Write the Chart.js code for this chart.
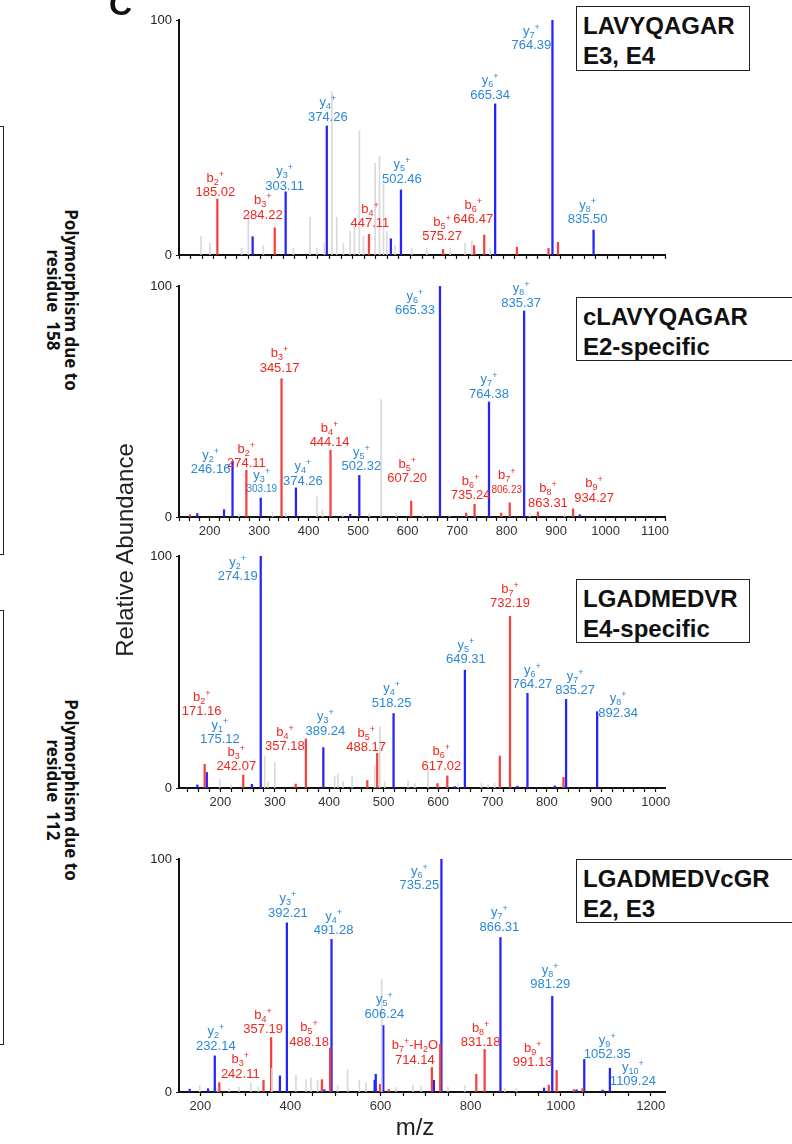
<!DOCTYPE html>
<html>
<head>
<meta charset="utf-8">
<script src="https://cdn.jsdelivr.net/npm/chart.js@4.4.1/dist/chart.umd.min.js"></script>
<style>
  body { margin: 0; width: 792px; height: 1144px; position: relative; overflow: hidden; background: #fff;
         font-family: "Liberation Sans", Arial, sans-serif; }
  canvas { position: absolute; left: 130px; }
  .pep { position: absolute; left: 576px; height: 64px; border: 1.5px solid #222; box-sizing: border-box;
         font-weight: bold; font-size: 24px; line-height: 30px; padding: 4px 0 0 6px; color: #111; background: #fff; white-space: nowrap; }
  .side { position: absolute; left: -20px; width: 24px; border: 1.5px solid #222; box-sizing: border-box; }
  .poly { position: absolute; width: 260px; left: -68px; height: 36px; text-align: center; font-family: "Noto Sans", sans-serif;
          font-weight: bold; font-size: 17px; line-height: 18px; color: #111; transform: rotate(90deg); }
  #ylab { position: absolute; left: -25px; top: 536px; width: 300px; text-align: center; font-size: 24px; line-height: 28px; color: #222;
          transform: rotate(-90deg); }
  #xlab { position: absolute; left: 365px; top: 1113px; width: 100px; text-align: center; font-size: 24px; color: #222; }
  #letter { position: absolute; left: 109px; top: -12px; font-weight: bold; font-size: 32px; line-height: 32px; color: #111; }
</style>
</head>
<body>
<canvas id="p1" width="560" height="280" style="top:5px"></canvas>
<canvas id="p2" width="560" height="276" style="top:271px"></canvas>
<canvas id="p3" width="560" height="277" style="top:541px"></canvas>
<canvas id="p4" width="560" height="278" style="top:844px"></canvas>

<div id="letter">C</div>
<div class="side" style="top:126px;height:429px"></div>
<div class="side" style="top:610px;height:435px"></div>
<div class="poly" style="top:282px">Polymorphism due to<br>residue&nbsp; 158</div>
<div class="poly" style="top:772px">Polymorphism due to<br>residue&nbsp; 112</div>
<div id="ylab">Relative Abundance</div>
<div id="xlab">m/z</div>

<div class="pep" style="top:6px;width:174px;height:65px">LAVYQAGAR<br>E3, E4</div>
<div class="pep" style="top:297px;width:230px">cLAVYQAGAR<br>E2-specific</div>
<div class="pep" style="top:579px;width:174px">LGADMEDVR<br>E4-specific</div>
<div class="pep" style="top:859px;width:230px">LGADMEDVcGR<br>E2, E3</div>

<script>
// ---- panel 1: LAVYQAGAR
const p1Range = [118.7, 959];
const p1RedMz  = [185.02, 284.22, 447.11, 575.27, 629, 646.47, 703, 757.6, 774];
const p1RedInt = [23.8, 11.6, 8.8, 2.4, 4, 8.5, 3.3, 2.8, 5.4];
const p1BlueMz  = [246, 303.11, 374.26, 485, 502.46, 665.34, 764.39, 835.50];
const p1BlueInt = [7.8, 26.9, 54.9, 6.9, 27.7, 64.3, 100, 10.6];
const p1GrayMz  = [156.8, 172.3, 227, 238.6, 264.6, 316.5, 345.3, 357, 370, 383, 391.5, 403, 414.6, 422, 430.6, 437.6, 457.8, 465.4, 472.3, 478, 492.4, 521, 547, 587.6, 613.5, 625, 656.8];
const p1GrayInt = [8, 5, 3, 17, 4, 3, 16, 3, 5, 69.5, 16, 5, 10, 12, 53, 8, 39, 42, 30, 10, 4, 3, 3, 3, 5, 6, 3];
const p1Ions  = ['b2', 'b3', 'y3', 'y4', 'b4', 'y5', 'b5', 'b6', 'y6', 'y7', 'y8'];
const p1IonMz = ['185.02', '284.22', '303.11', '374.26', '447.11', '502.46', '575.27', '646.47', '665.34', '764.39', '835.50'];

// ---- panel 2: cLAVYQAGAR
const p2Range = [138, 1120];
const p2RedMz  = [160, 274.11, 345.17, 444.14, 607.20, 718.3, 735.24, 789, 806.23, 863.31, 934.27];
const p2RedInt = [1, 20.2, 59.9, 28.9, 6.9, 1.7, 5.5, 1.7, 6.1, 2.2, 3.5];
const p2BlueMz  = [175, 229, 246.16, 303.19, 374.26, 484, 502.32, 665.33, 764.38, 835.37, 947.7];
const p2BlueInt = [1.5, 3.2, 24.1, 8.2, 12.6, 1.2, 18, 100, 49.8, 89.2, 1];
const p2GrayMz  = [259, 327, 354, 416.7, 428, 468.6, 522.6, 546.3, 576.7, 630.5, 684.6, 846.5, 917];
const p2GrayInt = [1.5, 2, 1.5, 8.7, 3, 1.5, 1.5, 50.8, 1.5, 1.5, 1, 1.5, 1.5];
const p2Ions  = ['y2', 'b2', 'y3', 'b3', 'y4', 'b4', 'y5', 'b5', 'y6', 'b6', 'y7', 'b7', 'y8', 'b8', 'b9'];
const p2IonMz = ['246.16', '274.11', '303.19', '345.17', '374.26', '444.14', '502.32', '607.20', '665.33', '735.24', '764.38', '806.23', '835.37', '863.31', '934.27'];

// ---- panel 3: LGADMEDVR
const p3Range = [124, 1017];
const p3RedMz  = [171.16, 242.07, 338.5, 357.18, 470, 488.17, 599, 617.02, 713.5, 732.19, 830.5];
const p3RedInt = [10.2, 5.6, 1.7, 21.1, 3.2, 14.9, 1.9, 5.2, 13.8, 74, 4.6];
const p3BlueMz  = [157.7, 175.12, 258, 274.19, 389.24, 518.25, 630.8, 649.31, 746, 764.27, 814.6, 835.27, 892.34];
const p3BlueInt = [1.3, 6.7, 1.6, 100, 17.4, 32.1, 0.6, 50.8, 0.8, 40.8, 0.9, 38.2, 32.9];
const p3GrayMz  = [198.8, 220, 281.5, 287.6, 300, 410, 416, 425.5, 442, 483.7, 493, 502, 545, 557, 581.7, 637, 679.7, 692, 704];
const p3GrayInt = [3.7, 1.3, 13.8, 3, 10.9, 4.9, 6, 3, 5, 9.9, 26.4, 2.5, 3, 2, 7.7, 2, 2, 1.5, 2];
const p3Ions  = ['b2', 'y1', 'b3', 'y2', 'b4', 'y3', 'b5', 'y4', 'b6', 'y5', 'b7', 'y6', 'y7', 'y8'];
const p3IonMz = ['171.16', '175.12', '242.07', '274.19', '357.18', '389.24', '488.17', '518.25', '617.02', '649.31', '732.19', '764.27', '835.27', '892.34'];

// ---- panel 4: LGADMEDVcGR
const p4Range = [152.7, 1231.6];
const p4RedMz  = [242.11, 340.3, 357.19, 470, 488.18, 599, 618.4, 714.14, 732.6, 812.7, 831.18, 973.6, 991.13, 1029.2, 1048.5];
const p4RedInt = [4, 5, 23.4, 5.3, 18.9, 3.3, 1.1, 10.5, 20.5, 7.6, 18.3, 2.9, 9.3, 1, 1.5];
const p4BlueMz  = [176.5, 217.2, 232.14, 376.7, 392.21, 475.3, 491.28, 587, 589.5, 606.24, 718.5, 735.25, 866.31, 963.2, 981.29, 1035.2, 1052.35, 1093, 1109.24];
const p4BlueInt = [1.2, 1.4, 15.5, 6.9, 72.6, 1, 65.5, 5, 7.6, 28.5, 5, 100, 66.3, 1.7, 41.1, 1, 14, 0.8, 10.2];
const p4GrayMz  = [198.8, 238, 264, 286, 312, 329, 359, 412.3, 434.6, 445.7, 460.4, 504.9, 527, 553, 568, 602.7, 634.8, 671.7, 690.4, 749.6, 786.7, 875.7, 901.7];
const p4GrayInt = [2.9, 1.5, 1.5, 2, 3.9, 2, 10, 7.2, 5.4, 6, 5, 2.5, 9.6, 5, 4, 48.3, 2, 3, 2.5, 2, 2.8, 1.5, 1.5];
const p4Ions  = ['y2', 'b3', 'b4', 'y3', 'b5', 'y4', 'y5', 'b7-H2O', 'y6', 'b8', 'y7', 'y8', 'b9', 'y9', 'y10'];
const p4IonMz = ['232.14', '242.11', '357.19', '392.21', '488.18', '491.28', '606.24', '714.14', '735.25', '831.18', '866.31', '981.29', '991.13', '1052.35', '1109.24'];

// label placement (pixel nudges from the peak top)
const p1Nudge = [[-2,-3],[-12,-9],[-1,-2],[1,-5],[1,-7],[1,-7],[-1,-9],[-11,-12],[-5,-5],[-21,29],[-6,-7]];
const p2Nudge = [[-22,12],[0,-3],[1,-6],[-2,-7],[7,-3],[-1,-4],[2,-5],[-4,-19],[-25,28],[-4,-5],[0,-4],[-3,-10],[-3,-4],[10,-5],[21,-7]];
const p3Nudge = [[-3,-49],[13,-29],[-7,-5],[-23,24],[-21,11],[2,-13],[-11,-2],[-2,-7],[-6,-6],[1,-7],[0,-9],[5,-5],[9,-5],[21,5]];
const p4Nudge = [[1,-6],[21,-5],[-8,-4],[1,-6],[-21,-2],[2,-5],[1,-8],[-17,-4],[-22,30],[-4,-3],[-1,-7],[-2,-8],[-24,-4],[23,-1],[23,17]];

const FONT = '"Liberation Sans", Arial, sans-serif';
const RED_TXT = '#f2261f', BLUE_TXT = '#2d88d4';

function drawIonName(ctx, name, cx, base) {
    const m = name.match(/^([by])(\d+)(.*)$/);
    const parts = [[m[1], 0], [m[2], 1], ['+', 2]];
    for (const ch of m[3]) parts.push([ch, /\d/.test(ch) ? 1 : 0]);
    let w = 0;
    parts.forEach(p => {
        ctx.font = (p[1] ? '9px ' : '13px ') + FONT;
        p.push(ctx.measureText(p[0]).width);
        w += p[2];
    });
    let x = cx - w / 2;
    parts.forEach(p => {
        ctx.font = (p[1] ? '9px ' : '13px ') + FONT;
        const dy = p[1] === 1 ? 3 : (p[1] === 2 ? -5 : 0);
        ctx.fillText(p[0], x, base + dy);
        x += p[2];
    });
}

function labelPlugin(ions, ionMz, nudge, small) {
    return {
        id: 'ionLabels',
        afterDatasetsDraw(chart) {
            const ctx = chart.ctx;
            const xs = chart.scales.x, ys = chart.scales.y;
            ctx.save();
            ctx.textBaseline = 'alphabetic';
            ctx.textAlign = 'left';
            ions.forEach((name, i) => {
                const mz = parseFloat(ionMz[i]);
                const isB = name[0] === 'b';
                const pk = chart.data.datasets[isB ? 1 : 2].data.find(d => Math.abs(d.x - mz) < 0.01);
                const px = xs.getPixelForValue(mz) + nudge[i][0];
                const py = ys.getPixelForValue(pk.y) + nudge[i][1];
                ctx.fillStyle = isB ? RED_TXT : BLUE_TXT;
                ctx.font = (small.includes(i) ? '10px ' : '13px ') + FONT;
                const w = ctx.measureText(ionMz[i]).width;
                ctx.fillText(ionMz[i], px - w / 2, py);
                drawIonName(ctx, name, px, py - (small.includes(i) ? 13.5 : 14.5));
            });
            ctx.restore();
        }
    };
}

function pts(mz, inten) {
    return mz.map((m, i) => ({ x: m, y: inten[i] }));
}

function makeSpectrum(id, range, red, blue, gray, ions, ionMz, nudge, minor, major, small) {
    new Chart(document.getElementById(id), {
        type: 'bar',
        data: {
            datasets: [
                { data: pts(gray[0], gray[1]), backgroundColor: '#d9d9d9', barThickness: 1, grouped: false },
                { data: pts(red[0], red[1]), backgroundColor: '#f5413d', barThickness: 1.6, grouped: false },
                { data: pts(blue[0], blue[1]), backgroundColor: '#2424ff', barThickness: 1.6, grouped: false }
            ]
        },
        options: {
            responsive: false,
            animation: false,
            devicePixelRatio: 1,
            layout: { padding: { top: 15, right: 25, left: 0, bottom: 0 } },
            plugins: { legend: { display: false }, tooltip: { enabled: false } },
            scales: {
                x: {
                    type: 'linear', min: range[0], max: range[1], offset: false,
                    border: { color: '#111', width: 2 },
                    grid: { offset: false, drawOnChartArea: false, tickLength: 4, color: '#111', tickWidth: 1.2 },
                    ticks: {
                        stepSize: minor, autoSkip: false, maxRotation: 0, includeBounds: false, padding: 3,
                        color: '#333', font: { size: 13, family: FONT },
                        callback: v => (v % major === 0 ? v : '')
                    },
                    afterFit: s => { s.height = 30; }
                },
                y: {
                    min: 0, max: 100,
                    border: { color: '#111', width: 2 },
                    grid: { drawOnChartArea: false, tickLength: 3, color: '#111' },
                    ticks: { stepSize: 100, color: '#222', font: { size: 13, family: FONT }, padding: 4 },
                    afterFit: s => { s.width = 49; }
                }
            }
        },
        plugins: [labelPlugin(ions, ionMz, nudge, small)]
    });
}

makeSpectrum('p1', p1Range, [p1RedMz, p1RedInt], [p1BlueMz, p1BlueInt], [p1GrayMz, p1GrayInt], p1Ions, p1IonMz, p1Nudge, 20, 100, []);
makeSpectrum('p2', p2Range, [p2RedMz, p2RedInt], [p2BlueMz, p2BlueInt], [p2GrayMz, p2GrayInt], p2Ions, p2IonMz, p2Nudge, 20, 100, [2, 11]);
makeSpectrum('p3', p3Range, [p3RedMz, p3RedInt], [p3BlueMz, p3BlueInt], [p3GrayMz, p3GrayInt], p3Ions, p3IonMz, p3Nudge, 20, 100, []);
makeSpectrum('p4', p4Range, [p4RedMz, p4RedInt], [p4BlueMz, p4BlueInt], [p4GrayMz, p4GrayInt], p4Ions, p4IonMz, p4Nudge, 50, 200, []);
</script>
</body>
</html>
